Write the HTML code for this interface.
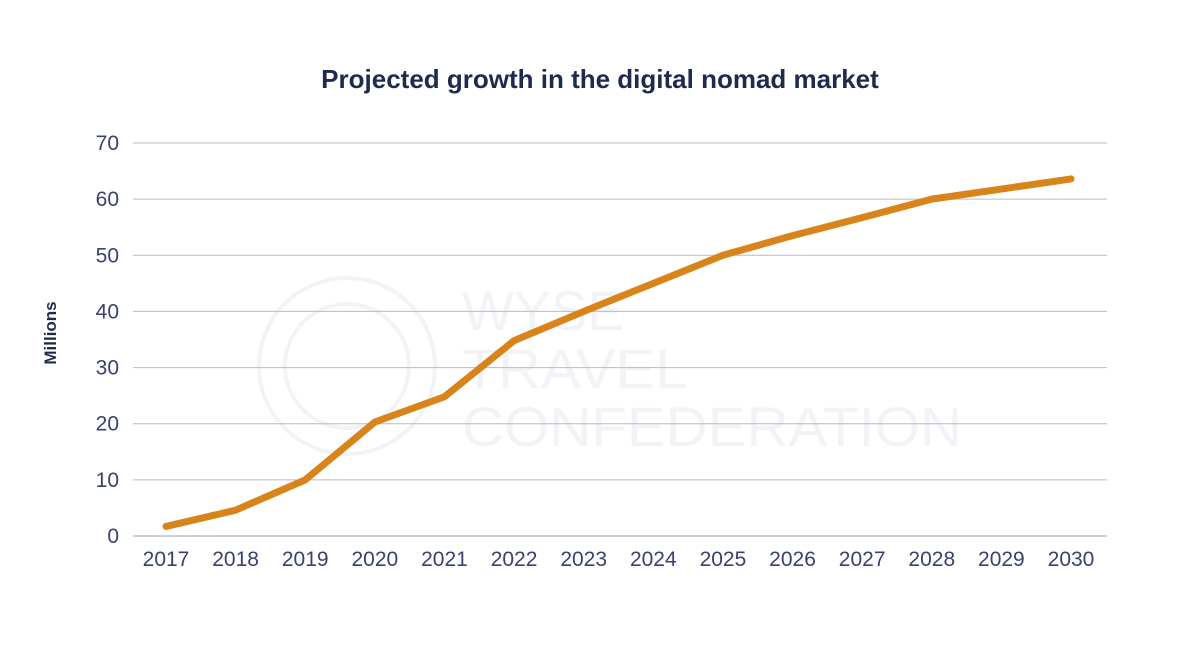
<!DOCTYPE html>
<html><head><meta charset="utf-8"><style>
html,body{margin:0;padding:0;background:#fff;width:1200px;height:665px;overflow:hidden}
svg{display:block;font-family:"Liberation Sans",sans-serif}
</style></head><body>
<svg id="chart" width="1200" height="665">
<text x="600" y="88" text-anchor="middle" font-size="26" font-weight="bold" fill="#1f2a4f">Projected growth in the digital nomad market</text>
<g opacity="0.5">
<circle cx="347" cy="366" r="88" fill="none" stroke="#e6e8ee" stroke-width="4"/>
<circle cx="347" cy="366" r="62" fill="none" stroke="#e6e8ee" stroke-width="4"/>
<text x="462" y="330" font-size="56" fill="#e6e8ee" textLength="162" lengthAdjust="spacingAndGlyphs">WYSE</text>
<text x="462" y="388" font-size="56" fill="#e6e8ee" textLength="226" lengthAdjust="spacingAndGlyphs">TRAVEL</text>
<text x="462" y="446" font-size="56" fill="#e6e8ee" textLength="500" lengthAdjust="spacingAndGlyphs">CONFEDERATION</text>
</g>
<text transform="translate(56,333) rotate(-90)" text-anchor="middle" font-size="17" font-weight="bold" fill="#1f2a4f">Millions</text>
<g id="grid"></g><g id="yt"></g><g id="xt"></g><g id="ln"></g>
</svg>
<script>
const years = ["2017","2018","2019","2020","2021","2022","2023","2024","2025","2026","2027","2028","2029","2030"];
const values = [1.7,4.6,10,20.3,24.8,34.8,40,45,50,53.5,56.7,60,61.8,63.6];
const yTicks = [0,10,20,30,40,50,60,70];
const ns="http://www.w3.org/2000/svg";
const x0=133,x1=1107,y0=536,y70=143;
const y=v=>y0-(v/70)*(y0-y70);
const xStart=166,xEnd=1071;
const x=i=>xStart+i*(xEnd-xStart)/(years.length-1);
function mk(t,a,p){const e=document.createElementNS(ns,t);for(const k in a)e.setAttribute(k,a[k]);p.appendChild(e);return e;}
const g=document.getElementById('grid'),yt=document.getElementById('yt'),xt=document.getElementById('xt'),ln=document.getElementById('ln');
yTicks.forEach(v=>{
 const l=mk('line',{x1:x0,x2:x1,y1:y(v),y2:y(v),stroke:v===0?'#cfd1d8':'#b9bcc4','stroke-width':v===0?2:1},g);
 
 
 const t=mk('text',{x:119,y:y(v)+7,'text-anchor':'end','font-size':21,fill:'#3a4170'},yt);
 t.textContent=v;
 
 
});
years.forEach((yr,i)=>{
 const t=mk('text',{x:x(i),y:566,'text-anchor':'middle','font-size':21,fill:'#3a4170'},xt);
 t.textContent=yr;
 
 
});
const p=mk('polyline',{points:values.map((v,i)=>x(i)+','+y(v)).join(' '),fill:'none',stroke:'#d9841a','stroke-width':7,'stroke-linecap':'round','stroke-linejoin':'round'},ln);


</script>
</body></html>
